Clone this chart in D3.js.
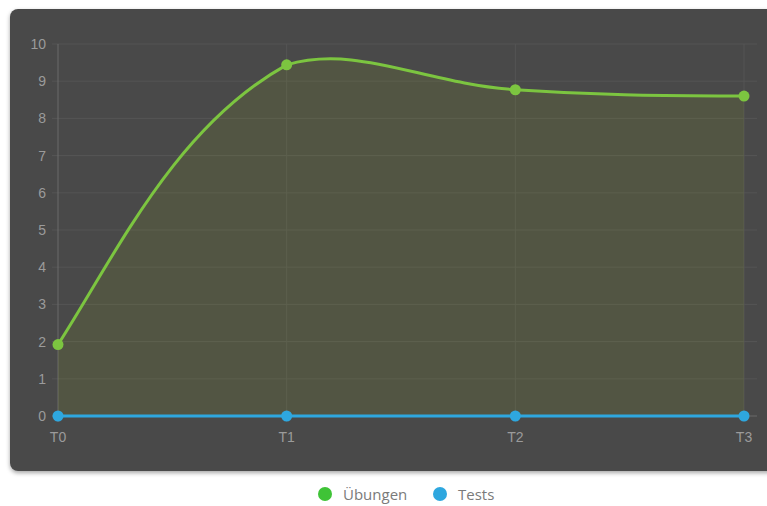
<!DOCTYPE html>
<html>
<head>
<meta charset="utf-8">
<script src="https://cdn.jsdelivr.net/npm/d3@7"></script>
<style>
  body { margin: 0; background: #fff; overflow: hidden; }
  svg { display: block; }
</style>
</head>
<body>
<svg width="767" height="506"></svg>
<script>
const labels = ["T0", "T1", "T2", "T3"];
const uebungen = [1.92, 9.44, 8.77, 8.6];
const tests = [0, 0, 0, 0];
const yTicks = [0, 1, 2, 3, 4, 5, 6, 7, 8, 9, 10];
const seriesNames = ["Übungen", "Tests"];
const seriesColors = ["#7cc540", "#2ea7df"];
const legendColors = ["#3fc337", "#2ea7df"];

const svg = d3.select("svg");

// drop shadow for the card
const defs = svg.append("defs");
const f = defs.append("filter").attr("id", "sh").attr("x", "-5%").attr("y", "-5%").attr("width", "110%").attr("height", "115%");
f.append("feDropShadow").attr("dx", 0).attr("dy", 2).attr("stdDeviation", 2).attr("flood-color", "#000").attr("flood-opacity", 0.35);

svg.append("rect")
    .attr("x", 10).attr("y", 9)
    .attr("width", 780).attr("height", 462)
    .attr("rx", 8)
    .attr("fill", "#4a4a4a")
    .attr("filter", "url(#sh)");

const x = d3.scalePoint().domain(labels).range([58, 744]);
const y = d3.scaleLinear().domain([0, 10]).range([416, 44]);

const g = svg.append("g");

// grid
g.selectAll(".hg").data(yTicks).enter().append("line")
    .attr("x1", 52).attr("x2", 757)
    .attr("y1", d => y(d)).attr("y2", d => y(d))
    .attr("stroke", d => d === 0 ? "#6a6a6a" : "#555555")
    .attr("stroke-width", 1);
g.selectAll(".vg").data(labels).enter().append("line")
    .attr("x1", d => x(d)).attr("x2", d => x(d))
    .attr("y1", 44).attr("y2", 422)
    .attr("stroke", (d, i) => i === 0 ? "#6a6a6a" : "#555555")
    .attr("stroke-width", 1);

// y labels
g.selectAll(".yl").data(yTicks).enter().append("text")
    .attr("x", 46).attr("y", d => y(d))
    .attr("dy", "0.35em")
    .attr("text-anchor", "end")
    .attr("font-family", "Liberation Sans, Arial, sans-serif")
    .attr("font-size", 14)
    .attr("fill", "#9b9b9b")
    .text(d => d);

// x labels
g.selectAll(".xl").data(labels).enter().append("text")
    .attr("x", d => x(d)).attr("y", 442)
    .attr("text-anchor", "middle")
    .attr("font-family", "Liberation Sans, Arial, sans-serif")
    .attr("font-size", 14)
    .attr("fill", "#9b9b9b")
    .text(d => d);

// bezier: pixel-distance weighted control points (tension 0.4),
// capped to the plot area, natural end tangents
function splinePath(vals, closeToZero) {
    const t = 0.4;
    const [x0, x1] = x.range(), [y0, y1] = [y(10), y(0)];
    const clampX = v => Math.max(x0, Math.min(x1, v));
    const clampY = v => Math.max(y0, Math.min(y1, v));
    const pts = vals.map((v, i) => [x(labels[i]), y(v)]);
    const n = pts.length;
    const ctrl = pts.map((p, i) => {
        const prev = pts[i - 1] || p, next = pts[i + 1] || p;
        const d01 = Math.hypot(p[0] - prev[0], p[1] - prev[1]);
        const d12 = Math.hypot(next[0] - p[0], next[1] - p[1]);
        let s01 = d01 / (d01 + d12), s12 = d12 / (d01 + d12);
        if (isNaN(s01)) s01 = 0;
        if (isNaN(s12)) s12 = 0;
        const fa = t * s01, fb = t * s12;
        return {
            prev: [p[0] - fa * (next[0] - prev[0]), p[1] - fa * (next[1] - prev[1])],
            next: [p[0] + fb * (next[0] - prev[0]), p[1] + fb * (next[1] - prev[1])]
        };
    });
    // end points: tangent from the neighbour's tangent
    function endCtrl(p, q, c, dir) {
        const mc = (q[1] - p[1]) / (q[0] - p[0]);
        const m1 = (q[1] - c[1]) / (q[0] - c[0]);
        const m0 = (3 * mc - m1) / 2;
        const L = 0.3 * Math.hypot(q[0] - p[0], q[1] - p[1]);
        const k = Math.sqrt(1 + m0 * m0);
        return [p[0] + dir * L / k, p[1] + dir * L * m0 / k];
    }
    if (n > 2) {
        ctrl[0].next = endCtrl(pts[0], pts[1], ctrl[1].prev, 1);
        ctrl[n - 1].prev = endCtrl(pts[n - 1], pts[n - 2], ctrl[n - 2].next, -1);
    }
    ctrl.forEach(c => {
        c.prev = [clampX(c.prev[0]), clampY(c.prev[1])];
        c.next = [clampX(c.next[0]), clampY(c.next[1])];
    });
    let d = `M${pts[0][0]},${pts[0][1]}`;
    for (let i = 1; i < n; i++) {
        const a = ctrl[i - 1].next, b = ctrl[i].prev;
        d += `C${a[0]},${a[1]},${b[0]},${b[1]},${pts[i][0]},${pts[i][1]}`;
    }
    if (closeToZero) {
        d += `L${pts[n - 1][0]},${y(0)}L${pts[0][0]},${y(0)}Z`;
    }
    return d;
}

// filled area under Übungen
g.append("path")
    .attr("d", splinePath(uebungen, true))
    .attr("fill", "rgba(166,196,22,0.1)");

[uebungen, tests].forEach((s, k) => {
    g.append("path")
        .attr("d", splinePath(s, false))
        .attr("fill", "none")
        .attr("stroke", seriesColors[k])
        .attr("stroke-width", 3);
    g.selectAll(".pt" + k).data(s).enter().append("circle")
        .attr("cx", (d, i) => x(labels[i]))
        .attr("cy", d => y(d))
        .attr("r", 5.5)
        .attr("fill", seriesColors[k]);
});

// legend
const legend = svg.append("g").attr("font-family", "Open Sans, sans-serif").attr("font-size", 15);
const legendX = [325, 440];
seriesNames.forEach((n, k) => {
    legend.append("circle")
        .attr("cx", legendX[k]).attr("cy", 494).attr("r", 7)
        .attr("fill", legendColors[k]);
    legend.append("text")
        .attr("x", legendX[k] + 18).attr("y", 499.5)
        .attr("fill", "#7a7a7a")
        .text(n);
});
</script>
</body>
</html>
